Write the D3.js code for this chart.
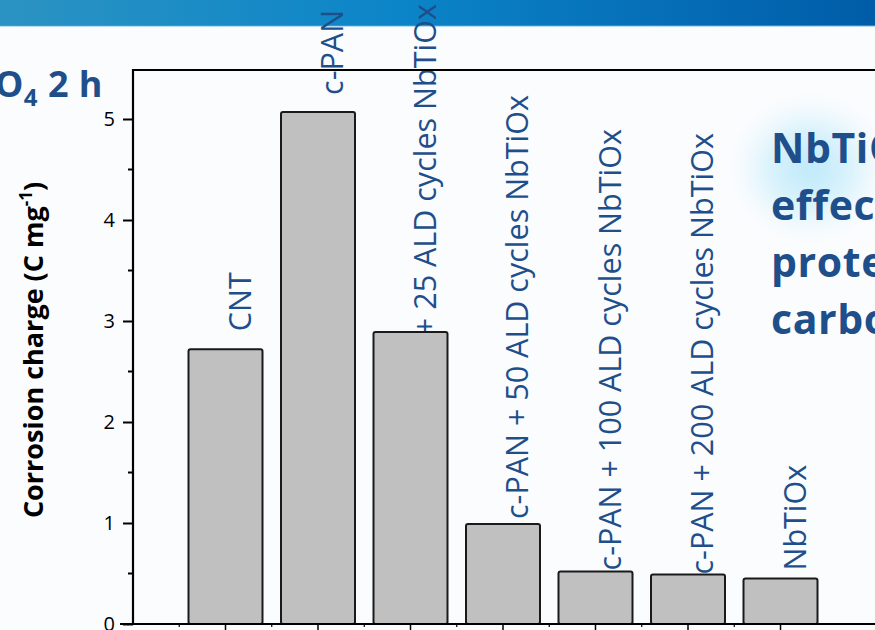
<!DOCTYPE html>
<html>
<head>
<meta charset="utf-8">
<script src="https://cdn.jsdelivr.net/npm/d3@7/dist/d3.min.js"></script>
<style>
  html, body { margin: 0; padding: 0; background: #fbfcfe; }
  svg { display: block; }
</style>
</head>
<body>
<script>
// Corrosion charge after 2 h in H2SO4
const categories = [
  "CNT",
  "c-PAN",
  "c-PAN + 25 ALD cycles NbTiOx",
  "c-PAN + 50 ALD cycles NbTiOx",
  "c-PAN + 100 ALD cycles NbTiOx",
  "c-PAN + 200 ALD cycles NbTiOx",
  "NbTiOx"
];
const charge = [2.72, 5.07, 2.89, 0.99, 0.52, 0.49, 0.45];
const yTicks = [0, 1, 2, 3, 4, 5];
const calloutLines = ["NbTiOx", "effectively", "protects", "carbon"];

// vertical distance (px) between a bar top and the start of its label
const labelLift = [18, 17, -96, 5, 1, 0, 8];

const W = 875, H = 630;
const blue = "#1e4f8b";

const svg = d3.select("body").append("svg")
  .attr("width", W).attr("height", H);

const defs = svg.append("defs");
const hdr = defs.append("linearGradient").attr("id", "hdr")
  .attr("x1", "0%").attr("x2", "100%");
hdr.append("stop").attr("offset", "0%").attr("stop-color", "#2b93c2");
hdr.append("stop").attr("offset", "45%").attr("stop-color", "#0c85c8");
hdr.append("stop").attr("offset", "100%").attr("stop-color", "#005ca8");

const glow = defs.append("radialGradient").attr("id", "glow");
glow.append("stop").attr("offset", "0%").attr("stop-color", "#b5e6f9").attr("stop-opacity", 0.95);
glow.append("stop").attr("offset", "55%").attr("stop-color", "#c9eefb").attr("stop-opacity", 0.6);
glow.append("stop").attr("offset", "100%").attr("stop-color", "#ffffff").attr("stop-opacity", 0);
defs.append("filter").attr("id", "soft")
  .attr("x", "-50%").attr("y", "-50%").attr("width", "200%").attr("height", "200%")
  .append("feGaussianBlur").attr("stdDeviation", 10);

// page background
svg.append("rect").attr("width", W).attr("height", H).attr("fill", "#fbfcfe");

// glow behind the callout
svg.append("ellipse")
  .attr("cx", 810).attr("cy", 168).attr("rx", 85).attr("ry", 78)
  .attr("fill", "url(#glow)").attr("filter", "url(#soft)");

// header band
svg.append("rect").attr("x", 0).attr("y", 0).attr("width", W).attr("height", 26)
  .attr("fill", "url(#hdr)");
svg.append("rect").attr("x", 0).attr("y", 25).attr("width", W).attr("height", 1.5)
  .attr("fill", "#3f9fd4").attr("opacity", 0.7);

// scales
const x = d3.scaleBand().domain(categories).range([133, 873])
  .paddingInner(0.2).paddingOuter(0.6);
const y = d3.scaleLinear().domain([0, 5.5]).range([624, 68.5]);

// left title fragment
const t = svg.append("text")
  .attr("x", 103).attr("y", 97)
  .attr("text-anchor", "end")
  .attr("font-family", "'Open Sans', sans-serif")
  .attr("font-weight", "bold").attr("font-size", 36)
  .attr("letter-spacing", 0.5)
  .attr("fill", blue);
t.append("tspan").text("H");
t.append("tspan").attr("font-size", 24).attr("dy", 9).text("2");
t.append("tspan").attr("dy", -9).text("SO");
t.append("tspan").attr("font-size", 24).attr("dy", 9).text("4");
t.append("tspan").attr("dy", -9).text(" 2 h");

// callout on the right
const co = svg.append("text")
  .attr("font-family", "'Open Sans', sans-serif")
  .attr("font-weight", "bold").attr("font-size", 41)
  .attr("letter-spacing", 0.6)
  .attr("fill", blue);
calloutLines.forEach((line, i) => {
  co.append("tspan").attr("x", 771).attr("y", 163 + i * 57).text(line);
});

// y axis
const yAxis = svg.append("g").attr("transform", "translate(133,0)")
  .call(d3.axisLeft(y).tickValues(yTicks).tickFormat(d3.format("d"))
    .tickSize(10).tickSizeOuter(0).tickPadding(8));
yAxis.select(".domain").remove();
yAxis.selectAll("line").attr("stroke", "#000").attr("stroke-width", 2);
yAxis.selectAll("text")
  .attr("font-family", "'Open Sans', sans-serif")
  .attr("font-size", 20).attr("fill", "#000");

// minor y ticks
svg.append("g").selectAll("line")
  .data(d3.range(0.5, 5.5, 1))
  .join("line")
  .attr("x1", 128).attr("x2", 133)
  .attr("y1", d => y(d)).attr("y2", d => y(d))
  .attr("stroke", "#000").attr("stroke-width", 2);

// x ticks (centres and band boundaries)
const step = x.step();
svg.append("g").selectAll("line")
  .data(categories)
  .join("line")
  .attr("x1", d => x(d) + x.bandwidth() / 2).attr("x2", d => x(d) + x.bandwidth() / 2)
  .attr("y1", 624).attr("y2", 630)
  .attr("stroke", "#000").attr("stroke-width", 1.5);
svg.append("g").selectAll("line")
  .data(categories)
  .join("line")
  .attr("x1", d => x(d) + x.bandwidth() / 2 - step / 2)
  .attr("x2", d => x(d) + x.bandwidth() / 2 - step / 2)
  .attr("y1", 624).attr("y2", 627)
  .attr("stroke", "#000").attr("stroke-width", 1.2);

// bar labels (drawn before bars so bars sit on top)
svg.append("g").selectAll("text")
  .data(categories)
  .join("text")
  .attr("transform", (d, i) =>
    `translate(${x(d) + x.bandwidth() / 2 + 25},${y(charge[i]) - labelLift[i]}) rotate(-90)`)
  .attr("font-family", "'Open Sans', sans-serif")
  .attr("font-size", 30.5)
  .attr("fill", blue)
  .text(d => d);

// bars
svg.append("g").selectAll("rect")
  .data(categories)
  .join("rect")
  .attr("x", d => x(d))
  .attr("width", x.bandwidth())
  .attr("y", (d, i) => y(charge[i]))
  .attr("height", (d, i) => y(0) - y(charge[i]))
  .attr("rx", 2)
  .attr("fill", "#c0c0c0")
  .attr("stroke", "#1a1a1a")
  .attr("stroke-width", 2);

// frame: left, bottom, top
svg.append("line").attr("x1", 133).attr("x2", 133).attr("y1", 69).attr("y2", 625)
  .attr("stroke", "#000").attr("stroke-width", 2.2);
svg.append("line").attr("x1", 120).attr("x2", W).attr("y1", 624).attr("y2", 624)
  .attr("stroke", "#000").attr("stroke-width", 2.2);
svg.append("line").attr("x1", 132).attr("x2", W).attr("y1", 70).attr("y2", 70)
  .attr("stroke", "#000").attr("stroke-width", 2.2);

// y axis title
const yt = svg.append("text")
  .attr("transform", "translate(43,350) rotate(-90)")
  .attr("text-anchor", "middle")
  .attr("font-family", "'Open Sans', sans-serif")
  .attr("font-weight", "bold").attr("font-size", 27)
  .attr("fill", "#000");
yt.append("tspan").text("Corrosion charge (C mg");
yt.append("tspan").attr("font-size", 17).attr("dy", -11).text("-1");
yt.append("tspan").attr("dy", 11).text(")");
</script>
</body>
</html>
